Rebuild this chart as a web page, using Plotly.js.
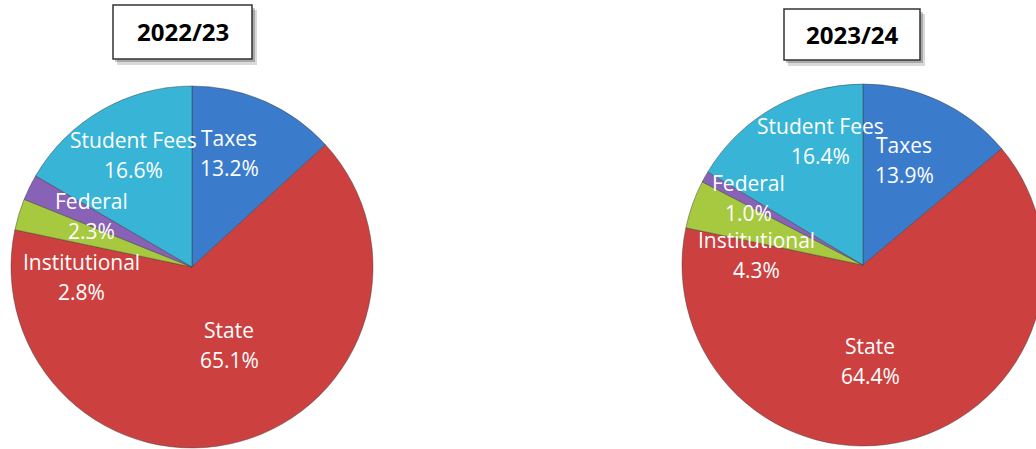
<!DOCTYPE html>
<html>
<head>
<meta charset="utf-8">
<script src="https://cdn.plot.ly/plotly-3.0.1.min.js"></script>
<style>
html,body{margin:0;padding:0;overflow:hidden;background:#fff;}
#chart{width:1050px;height:449px;}
</style>
</head>
<body>
<div id="chart"></div>
<script>
// ---- data ----
const categories = ["Taxes", "State", "Institutional", "Federal", "Student Fees"];
const values2223 = [13.2, 65.1, 2.8, 2.3, 16.6];
const values2324 = [13.9, 64.4, 4.3, 1.0, 16.4];
const yearLabels = ["2022/23", "2023/24"];
const sliceColors = ["#3b7bcc", "#cc4040", "#a6c93f", "#8762b6", "#37b4d6"];

// ---- layout helpers ----
const W = 1050, H = 449;
const px = x => x / W;
const py = y => 1 - y / H;

// label positions (pixel centres of the name line) per pie, per category
const labelPos2223 = [[229,138],[229,330],[81,262],[91,201],[133,140]];
const labelPos2324 = [[904,145],[870,346],[756,240],[748,183],[820,126]];

function pieTrace(vals, x0, x1, y0, y1, name) {
  return {
    type: "pie",
    name: name,
    labels: categories,
    values: vals,
    sort: false,
    direction: "clockwise",
    rotation: 0,
    textinfo: "none",
    hoverinfo: "label+percent",
    marker: {colors: sliceColors, line: {color: "rgba(60,60,60,0.45)", width: 1}},
    domain: {x: [px(x0), px(x1)], y: [py(y1), py(y0)]},
    showlegend: false
  };
}

const traces = [
  pieTrace(values2223, 11, 373, 86, 448, yearLabels[0]),
  pieTrace(values2324, 682, 1044, 84, 446, yearLabels[1])
];

const annotations = [];
const labelFont = {family: "Open Sans, Noto Sans, sans-serif", size: 21, color: "#ffffff"};
function addLabels(vals, pos) {
  categories.forEach((c, i) => {
    const [x, y] = pos[i];
    annotations.push({xref:"paper", yref:"paper", x: px(x), y: py(y), text: c,
      showarrow:false, xanchor:"center", yanchor:"middle", font: labelFont});
    annotations.push({xref:"paper", yref:"paper", x: px(x), y: py(y + 30), text: vals[i].toFixed(1) + "%",
      showarrow:false, xanchor:"center", yanchor:"middle", font: labelFont});
  });
}
addLabels(values2223, labelPos2223);
addLabels(values2324, labelPos2324);

// title boxes
const boxes = [[113,5,252,59], [784,9,920,60]];
const shapes = [];
boxes.forEach((b, i) => {
  const [x0,y0,x1,y1] = b;
  shapes.push({type:"rect", xref:"paper", yref:"paper", x0:px(x0+4), x1:px(x1+5), y0:py(y1+6), y1:py(y0+5),
    fillcolor:"rgba(0,0,0,0.15)", line:{width:0}, layer:"below"});
  shapes.push({type:"rect", xref:"paper", yref:"paper", x0:px(x0+2), x1:px(x1+3), y0:py(y1+3), y1:py(y0+3),
    fillcolor:"rgba(0,0,0,0.22)", line:{width:0}, layer:"below"});
  shapes.push({type:"rect", xref:"paper", yref:"paper", x0:px(x0), x1:px(x1), y0:py(y1), y1:py(y0),
    fillcolor:"#ffffff", line:{color:"#333333", width:1.5}, layer:"below"});
  annotations.push({xref:"paper", yref:"paper", x: px((x0+x1)/2), y: py((y0+y1)/2), text: "<b>" + yearLabels[i] + "</b>",
    showarrow:false, xanchor:"center", yanchor:"middle",
    font:{family:"Open Sans, Noto Sans, sans-serif", size:24, color:"#000000"}});
});

const layout = {
  width: W, height: H,
  margin: {l:0, r:0, t:0, b:0},
  paper_bgcolor: "#ffffff",
  plot_bgcolor: "#ffffff",
  showlegend: false,
  annotations: annotations,
  shapes: shapes
};

Plotly.newPlot("chart", traces, layout, {displayModeBar:false, staticPlot:true});
</script>
</body>
</html>
